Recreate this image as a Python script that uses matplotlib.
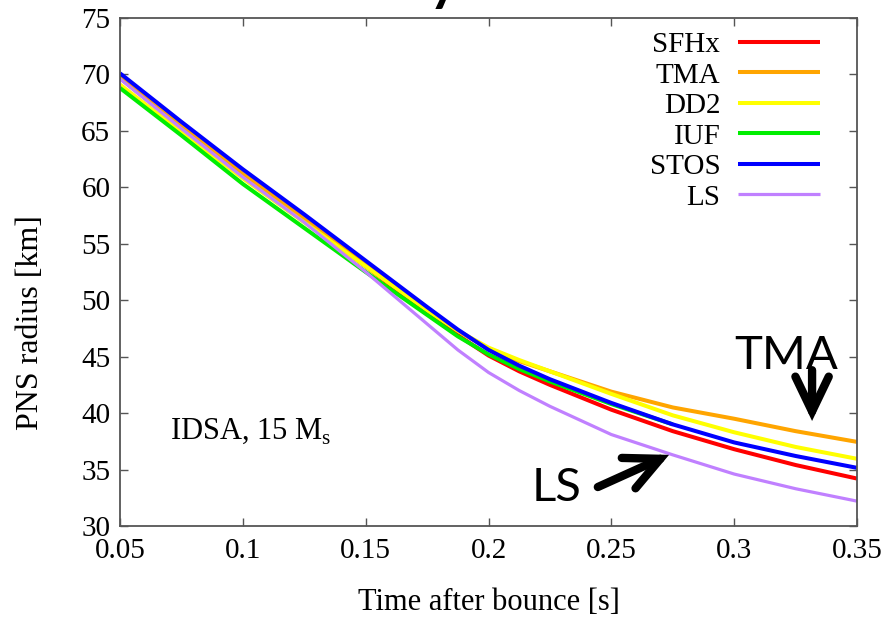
import matplotlib
matplotlib.use("Agg")
import matplotlib.pyplot as plt

plt.rcParams['font.family'] = ['Liberation Serif', 'DejaVu Serif']
plt.rcParams['mathtext.fontset'] = 'custom'
plt.rcParams['mathtext.rm'] = 'Liberation Serif'

# time after bounce [s]
t = [0.05, 0.075, 0.1, 0.125, 0.15, 0.175, 0.1875, 0.2, 0.2125, 0.225,
     0.25, 0.275, 0.3, 0.325, 0.35]

# PNS radius [km] for each EOS
sfhx = [69.7, 65.3, 61.0, 57.0, 53.0, 48.9, 46.9, 45.1, 43.7, 42.5,
        40.3, 38.4, 36.8, 35.4, 34.2]
tma  = [69.8, 65.5, 61.2, 57.3, 53.3, 49.2, 47.3, 45.7, 44.6, 43.7,
        41.9, 40.5, 39.5, 38.4, 37.45]
dd2  = [69.1, 64.9, 60.8, 56.9, 53.0, 49.1, 47.3, 45.8, 44.7, 43.7,
        41.7, 39.8, 38.3, 37.0, 35.95]
iuf  = [68.8, 64.6, 60.3, 56.4, 52.5, 48.7, 46.8, 45.2, 43.9, 42.8,
        40.8, 39.0]
stos = [70.1, 65.8, 61.6, 57.6, 53.5, 49.4, 47.4, 45.6, 44.2, 43.0,
        40.9, 39.0, 37.4, 36.2, 35.15]
ls   = [69.6, 65.2, 60.9, 56.9, 52.5, 47.9, 45.6, 43.6, 42.0, 40.6,
        38.1, 36.3, 34.6, 33.3, 32.2]

series = [
    ("SFHx", sfhx, "#ff0000"),
    ("TMA", tma, "#ffa500"),
    ("DD2", dd2, "#ffff00"),
    ("IUF", iuf, "#00ee00"),
    ("STOS", stos, "#0000ff"),
    ("LS", ls, "#c080ff"),
]

fig = plt.figure(figsize=(8.92, 6.18), dpi=100)
ax = fig.add_axes([0.1345, 0.1489, 0.9608 - 0.1345, 0.9709 - 0.1489])

for name, r, col in series:
    lw = 2.3 if name == "LS" else 2.9
    ax.plot(t[:len(r)], r, color=col, lw=lw, label=name,
            solid_capstyle='butt', solid_joinstyle='round')

ax.set_xlim(0.05, 0.35)
ax.set_ylim(30, 75)
ax.set_xticks([0.05, 0.1, 0.15, 0.2, 0.25, 0.3, 0.35])
ax.set_xticklabels(["0.05", "0.1", "0.15", "0.2", "0.25", "0.3", "0.35"])
ax.set_yticks(range(30, 76, 5))
ax.tick_params(direction='in', length=6, width=1.0, color='#555555',
               top=True, right=True, labelsize=21)
ax.tick_params(axis='x', pad=9)
ax.tick_params(axis='y', pad=7)
for sp in ax.spines.values():
    sp.set_color('#555555')
    sp.set_linewidth(1.3)

ax.set_xlabel("Time after bounce [s]", fontsize=22, labelpad=17)
ax.set_ylabel("PNS radius [km]", fontsize=23)
ax.yaxis.set_label_coords(-0.102, 0.40)

leg = ax.legend(loc='upper right', bbox_to_anchor=(0.9498, 0.973),
                frameon=False, markerfirst=False, fontsize=21,
                handlelength=2.8, handletextpad=0.62, labelspacing=0.14,
                borderpad=0, borderaxespad=0)
for txt in leg.get_texts():
    txt.set_ha('right')

ax.text(0.0705, 37.75, r"IDSA, 15 M$_\mathrm{s}$", fontsize=22)

# callouts
arrow = dict(arrowstyle='->,head_length=1.25,head_width=0.6', lw=6,
             color='black', capstyle='round', joinstyle='miter',
             shrinkA=0, shrinkB=0, mutation_scale=20)
ax.text(0.321, 45.1, "TMA", family='Lato', fontsize=34, ha='center', va='center')
ax.annotate("", xy=(0.3317, 39.3), xytext=(0.3317, 43.8), arrowprops=arrow)
ax.text(0.2275, 33.4, "LS", family='Lato', fontsize=34, ha='center', va='center')
ax.annotate("", xy=(0.2735, 36.3), xytext=(0.2445, 33.45), arrowprops=arrow)

# descender of the slide heading above the frame
fig.text(0.497, 1.0, "y", family='Lato', fontweight='bold', fontsize=40,
         ha='center', va='baseline')

fig.savefig("out.png", dpi=100)
